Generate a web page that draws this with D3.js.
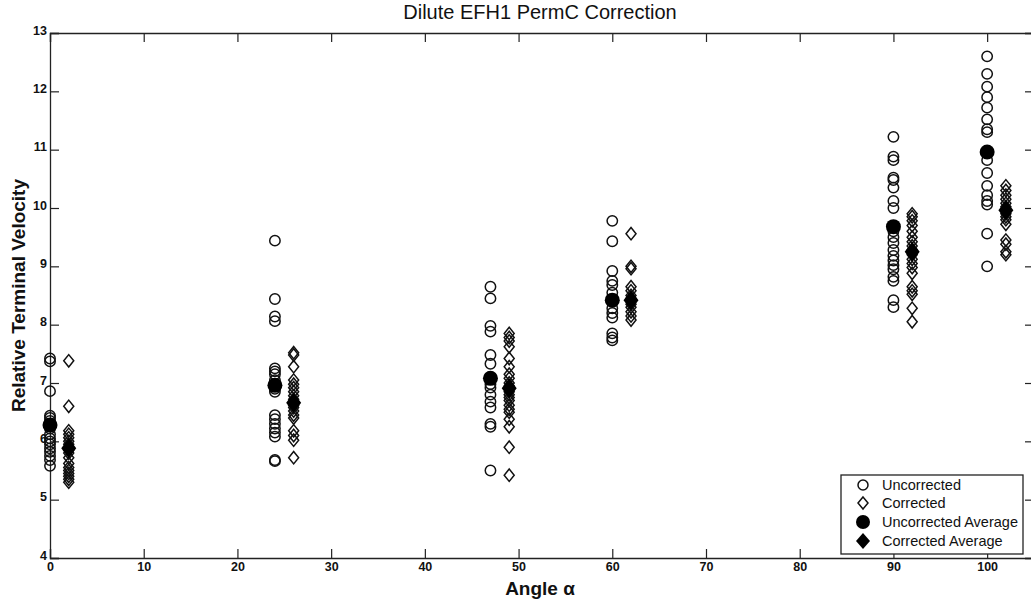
<!DOCTYPE html>
<html>
<head>
<meta charset="utf-8">
<script src="https://cdn.jsdelivr.net/npm/d3@7"></script>
<style>
  body { margin: 0; background: #fff; }
  text { font-family: "Liberation Sans", Arial, sans-serif; fill: #111; }
</style>
</head>
<body>
<svg id="chart"></svg>
<script>
// angles where each group was measured (corrected set is shifted by 2 for display)
const uncorrectedAngles = [0, 24, 47, 60, 90, 100];
const correctedAngles = [2, 26, 49, 62, 92, 102];

// raw relative terminal velocities, one list per angle
const uncorrectedValues = [
  [7.42, 7.37, 6.86, 6.44, 6.40, 6.35, 6.22, 6.12, 6.05, 6.0, 5.95, 5.88, 5.82, 5.75, 5.68, 5.58],
  [9.44, 8.44, 8.14, 8.06, 7.25, 7.2, 7.15, 7.05, 6.9, 6.85, 6.45, 6.38, 6.3, 6.22, 6.15, 6.08, 5.68, 5.66],
  [8.65, 8.45, 7.98, 7.88, 7.48, 7.33, 7.1, 6.98, 6.92, 6.8, 6.68, 6.58, 6.3, 6.25, 5.5],
  [9.78, 9.43, 8.92, 8.75, 8.68, 8.55, 8.42, 8.28, 8.2, 8.12, 7.85, 7.78, 7.73],
  [11.22, 10.88, 10.82, 10.52, 10.48, 10.35, 10.12, 10.0, 9.6, 9.5, 9.4, 9.28, 9.18, 9.1, 9.02, 8.95, 8.82, 8.75, 8.42, 8.3],
  [12.6, 12.3, 12.08, 11.9, 11.72, 11.52, 11.35, 11.3, 10.82, 10.6, 10.38, 10.22, 10.12, 10.06, 9.56, 9.0]
];
const correctedValues = [
  [7.38, 6.6, 6.18, 6.12, 6.06, 6.0, 5.95, 5.9, 5.85, 5.8, 5.72, 5.62, 5.55, 5.5, 5.45, 5.4, 5.35, 5.3],
  [7.52, 7.48, 7.28, 7.05, 6.98, 6.92, 6.85, 6.78, 6.72, 6.68, 6.62, 6.58, 6.52, 6.45, 6.4, 6.18, 6.1, 6.02, 5.72],
  [7.85, 7.78, 7.72, 7.62, 7.42, 7.28, 7.15, 7.08, 7.0, 6.95, 6.9, 6.85, 6.8, 6.75, 6.7, 6.62, 6.55, 6.5, 6.38, 6.25, 5.9, 5.42],
  [9.56, 9.0, 8.96, 8.65, 8.58, 8.5, 8.45, 8.4, 8.35, 8.3, 8.22, 8.15, 8.08],
  [9.9, 9.85, 9.78, 9.7, 9.6, 9.5, 9.42, 9.35, 9.28, 9.2, 9.12, 9.05, 8.98, 8.88, 8.65, 8.58, 8.52, 8.28, 8.05],
  [10.38, 10.3, 10.22, 10.15, 10.08, 10.02, 9.95, 9.9, 9.85, 9.8, 9.72, 9.45, 9.38, 9.25, 9.2]
];

// averages as plotted
const uncorrectedAverage = [6.28, 6.96, 7.08, 8.42, 9.68, 10.96];
const correctedAverage = [5.88, 6.66, 6.91, 8.42, 9.25, 9.96];

const xTicks = [0, 10, 20, 30, 40, 50, 60, 70, 80, 90, 100];
const yTicks = [4, 5, 6, 7, 8, 9, 10, 11, 12, 13];
const legendLabels = ["Uncorrected", "Corrected", "Uncorrected Average", "Corrected Average"];

const W = 1031, H = 600;
const margin = { top: 33, left: 50 };
const plotW = 984, plotH = 525;

const svg = d3.select("#chart").attr("width", W).attr("height", H);
const chart = svg.append("g").attr("transform", `translate(${margin.left},${margin.top})`);

const x = d3.scaleLinear().domain([0, 105]).range([0, plotW]);
const y = d3.scaleLinear().domain([4, 13]).range([plotH, 0]);

// diamond path centred at 0,0
function diamond(hw, hh) {
  return `M0,${-hh}L${hw},0L0,${hh}L${-hw},0Z`;
}

// axes, MATLAB-style box with inward ticks on all four sides
const tickLen = 9;
chart.append("g").attr("transform", `translate(0,${plotH})`)
  .call(d3.axisBottom(x).tickValues(xTicks).tickSize(-tickLen).tickPadding(4))
  .call(g => g.selectAll("text").attr("font-size", 12.5).attr("font-weight", "bold"));
chart.append("g")
  .call(d3.axisTop(x).tickValues(xTicks).tickSize(-tickLen).tickFormat(""));
chart.append("g")
  .call(d3.axisLeft(y).tickValues(yTicks).tickSize(-tickLen).tickPadding(3))
  .call(g => g.selectAll("text").attr("font-size", 12.5).attr("font-weight", "bold").attr("dy", "0.1em"));
chart.append("g").attr("transform", `translate(${plotW},0)`)
  .call(d3.axisRight(y).tickValues(yTicks).tickSize(-tickLen).tickFormat(""));
chart.selectAll(".domain").attr("stroke", "#222").attr("stroke-width", 1.3);
chart.selectAll(".tick line").attr("stroke", "#222").attr("stroke-width", 1.2);

// flatten groups into points
const uncPts = [], corPts = [];
uncorrectedAngles.forEach((a, i) => uncorrectedValues[i].forEach(v => uncPts.push({ a, v })));
correctedAngles.forEach((a, i) => correctedValues[i].forEach(v => corPts.push({ a, v })));

chart.selectAll(".unc").data(uncPts).enter().append("circle")
  .attr("class", "unc")
  .attr("cx", d => x(d.a)).attr("cy", d => y(d.v)).attr("r", 5.2)
  .attr("fill", "none").attr("stroke", "#111").attr("stroke-width", 1.5);

chart.selectAll(".cor").data(corPts).enter().append("path")
  .attr("class", "cor")
  .attr("transform", d => `translate(${x(d.a)},${y(d.v)})`)
  .attr("d", diamond(5, 6.2))
  .attr("fill", "none").attr("stroke", "#111").attr("stroke-width", 1.5);

chart.selectAll(".uncAvg").data(uncorrectedAverage).enter().append("circle")
  .attr("class", "uncAvg")
  .attr("cx", (d, i) => x(uncorrectedAngles[i])).attr("cy", d => y(d)).attr("r", 7.5)
  .attr("fill", "#000");

chart.selectAll(".corAvg").data(correctedAverage).enter().append("path")
  .attr("class", "corAvg")
  .attr("transform", (d, i) => `translate(${x(correctedAngles[i])},${y(d)})`)
  .attr("d", diamond(7.5, 10))
  .attr("fill", "#000");

// title and axis labels
svg.append("text").attr("x", 540).attr("y", 19).attr("text-anchor", "middle")
  .attr("font-size", 20).text("Dilute EFH1 PermC Correction");
svg.append("text").attr("x", 540).attr("y", 595).attr("text-anchor", "middle")
  .attr("font-size", 19).attr("font-weight", "bold").text("Angle α");
svg.append("text").attr("transform", `translate(25,${margin.top + plotH / 2}) rotate(-90)`)
  .attr("text-anchor", "middle").attr("font-size", 19).attr("font-weight", "bold")
  .text("Relative Terminal Velocity");

// legend
const legend = svg.append("g").attr("transform", "translate(841,475)");
legend.append("rect").attr("width", 182).attr("height", 79)
  .attr("fill", "#fff").attr("stroke", "#222").attr("stroke-width", 1.3);
const rowY = [10, 28, 47, 66];
legendLabels.forEach((lab, i) => {
  const g = legend.append("g").attr("transform", `translate(22,${rowY[i]})`);
  if (i === 0) g.append("circle").attr("r", 5).attr("fill", "none").attr("stroke", "#111").attr("stroke-width", 1.5);
  if (i === 1) g.append("path").attr("d", diamond(5, 6)).attr("fill", "none").attr("stroke", "#111").attr("stroke-width", 1.5);
  if (i === 2) g.append("circle").attr("r", 7).attr("fill", "#000");
  if (i === 3) g.append("path").attr("d", diamond(7, 8)).attr("fill", "#000");
  legend.append("text").attr("x", 41).attr("y", rowY[i]).attr("dy", "0.35em")
    .attr("font-size", 14.5).text(lab);
});
</script>
</body>
</html>
